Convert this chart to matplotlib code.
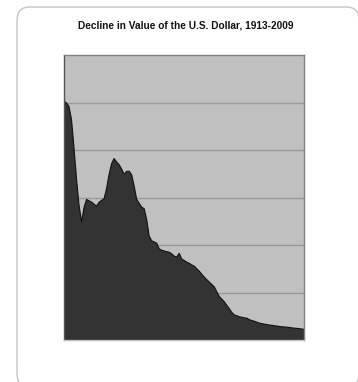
import matplotlib
matplotlib.use("Agg")
import matplotlib.pyplot as plt
from matplotlib.patches import FancyBboxPatch

# purchasing power of the 1913 dollar
years = list(range(1913, 2010))
value = [1.008, 1.00, 0.985, 0.93, 0.81, 0.68, 0.57, 0.50, 0.56, 0.594,
         0.588, 0.583, 0.574, 0.566, 0.582, 0.59, 0.597, 0.64, 0.70, 0.745,
         0.766, 0.752, 0.74, 0.722, 0.70, 0.712, 0.713, 0.698, 0.65, 0.595,
         0.578, 0.562, 0.555, 0.51, 0.44, 0.42, 0.415, 0.41, 0.386, 0.38,
         0.377, 0.374, 0.372, 0.365, 0.355, 0.352, 0.367, 0.343, 0.337, 0.33,
         0.325, 0.318, 0.313, 0.302, 0.292, 0.279, 0.267, 0.256, 0.246, 0.236,
         0.226, 0.205, 0.185, 0.174, 0.163, 0.148, 0.134, 0.118, 0.108, 0.104,
         0.10, 0.098, 0.095, 0.094, 0.088, 0.084, 0.081, 0.077, 0.073, 0.071,
         0.069, 0.067, 0.065, 0.064, 0.062, 0.061, 0.059, 0.058, 0.057, 0.056,
         0.055, 0.053, 0.052, 0.051, 0.05, 0.048, 0.047]
grid_vals = [0.2, 0.4, 0.6, 0.8, 1.0]
title = "Decline in Value of the U.S. Dollar, 1913-2009"

W, H = 358, 382
fig = plt.figure(figsize=(W / 100, H / 100), dpi=100)
fig.patch.set_facecolor("white")

# rounded card border, runs off the right and bottom of the image
card = FancyBboxPatch((17 / W, 1 - 387 / H), 342 / W, 380 / H,
                      boxstyle="round,pad=0,rounding_size=0.035",
                      transform=fig.transFigure, facecolor="white",
                      edgecolor="#c4c4c4", linewidth=1.0, zorder=-5)
fig.patches.append(card)

fig.text(186 / W, 1 - 25 / H, title, ha="center", va="center",
         fontsize=7.3, fontweight="bold", family="Liberation Sans", color="#111111")

left, right, top, bottom = 63.5, 304, 55, 340
ax = fig.add_axes([left / W, 1 - bottom / H, (right - left) / W, (bottom - top) / H])
ax.set_zorder(5)
ax.set_facecolor("#c0c0c0")
ax.set_xlim(1913, 2009)
ax.set_ylim(0, 1.2)
for g in grid_vals:
    ax.axhline(g, color="#9a9a9a", linewidth=1.0, zorder=1)
ax.fill_between(years, value, 0, facecolor="#333333", edgecolor="#111111",
                linewidth=0.8, zorder=2)
ax.set_xticks([])
ax.set_yticks([])
ax.spines["top"].set_color("#808080")
ax.spines["right"].set_color("#808080")
ax.spines["left"].set_color("#555555")
ax.spines["bottom"].set_color("#bdbdbd")
for s in ax.spines.values():
    s.set_linewidth(1.0)

fig.savefig("out.png", dpi=100)
